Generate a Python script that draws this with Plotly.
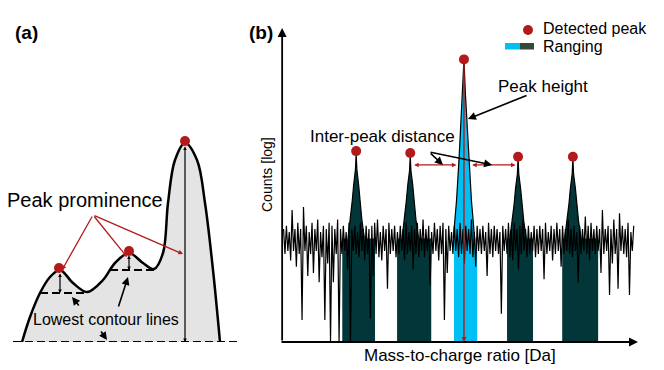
import plotly.graph_objects as go

W, H = 664, 370
FONT = "Arial, Liberation Sans, sans-serif"
RED = "#b31b1b"
TEAL = "#023638"
CYAN = "#00bff2"
GREY = "#e4e4e4"

# ---- panel (a): schematic profile (units ~ pixels above the baseline)
curve_x = [22, 30, 40, 50, 60, 73, 87, 103, 115, 129, 143, 154, 163, 168, 175, 185, 197, 205, 213, 220]
curve_y = [0, 25, 49, 65, 72, 59, 50, 62, 79, 89, 79, 73, 89, 139, 182, 199, 182, 139, 72, 0]
base_x = [13, 240]
contour_y = [49, 72]
contour_x0 = [40, 110]
contour_x1 = [87, 154]
apex_x = [59, 129, 185]
apex_y = [74, 91, 201]
prom_top = [70, 88, 197]
prom_bottom = [49, 72, 0]

# ---- panel (b): spectrum (m/z in arbitrary Da, counts on log scale)
noise_x0, noise_dx = 0.4, 0.4
noise_y = [
    3.6, 2.8, 3.7, 2.9, 3.5, 2.6, 4.2, 2.9, 3.6, 2.4, 3.8, 2.8, 3.6, 0.7, 4.3, 2.9, 3.7, 2.1, 3.5, 2.8,
    3.8, 2.2, 3.6, 2.9, 3.9, 1.9, 3.5, 2.7, 3.7, 0.7, 3.6, 2.5, 3.8, 0.0, 3.7, 1.9, 3.6, 2.8, 3.9, 0.0,
    3.6, 2.8, 3.7, 2.9, 3.5, 2.3, 3.8, 0.0, 3.6, 2.9, 3.7, 2.8, 3.5, 2.7, 3.8, 2.9, 3.6, 2.6, 3.7, 2.8,
    3.6, 0.75, 3.7, 2.1, 3.8, 2.8, 3.9, 2.7, 3.5, 2.6, 3.7, 2.9, 3.6, 1.7, 3.8, 2.8, 3.6, 2.9, 3.7, 2.7,
    3.5, 2.8, 3.7, 2.9, 3.6, 2.6, 3.8, 2.8, 3.5, 2.9, 3.7, 2.3, 3.6, 2.8, 3.8, 2.7, 3.6, 2.9, 3.9, 2.7,
    3.6, 2.9, 3.7, 1.8, 3.5, 2.8, 3.8, 2.9, 3.6, 2.6, 3.7, 2.8, 3.8, 0.7, 3.6, 2.2, 3.7, 2.9, 3.5, 2.8,
    3.7, 2.9, 3.6, 2.7, 3.8, 2.8, 3.6, 2.5, 3.7, 2.9, 3.6, 2.8, 3.9, 2.7, 3.5, 2.4, 3.7, 2.9, 3.6, 2.8,
    3.7, 2.9, 3.5, 2.1, 3.8, 2.8, 3.6, 2.7, 3.7, 2.9, 3.6, 2.8, 3.5, 0.9, 3.7, 2.9, 3.6, 2.8, 3.8, 2.7,
    3.6, 2.6, 3.8, 2.9, 3.6, 2.3, 3.7, 2.8, 3.9, 2.9, 3.6, 2.7, 3.7, 2.8, 3.5, 2.9, 3.7, 2.7, 3.6, 2.8,
    3.7, 2.9, 3.6, 2.0, 3.8, 2.8, 3.5, 2.9, 3.7, 2.6, 3.6, 2.8, 3.8, 2.9, 3.6, 2.4, 3.7, 2.8, 3.6, 2.9,
    3.9, 2.8, 3.6, 2.7, 3.7, 2.9, 3.5, 1.9, 3.7, 2.8, 3.6, 2.9, 4.0, 2.8, 3.7, 2.6, 3.8, 2.9, 3.6, 2.8,
    3.7, 2.9, 3.6, 2.2, 4.2, 2.8, 3.6, 2.9, 3.7, 1.5, 3.6, 2.5, 3.9, 2.8, 3.6, 1.7, 4.1, 2.9, 3.7, 2.8,
    3.6, 2.7, 3.8, 1.5, 3.5, 2.9, 3.7,
]
peak_mz = [20.8, 36.0, 51.1, 66.3, 81.7]
peak_top = [6.08, 6.02, 9.0, 5.9, 5.9]
peak_x = [
    [18.5, 19.2, 19.7, 20.1, 20.6, 20.8, 21.0, 21.5, 21.9, 22.4, 23.1],
    [33.7, 34.4, 34.9, 35.3, 35.8, 36.0, 36.2, 36.7, 37.1, 37.6, 38.3],
    [48.1, 49.0, 49.7, 50.3, 50.75, 51.1, 51.45, 51.9, 52.5, 53.2, 54.1],
    [64.0, 64.7, 65.2, 65.6, 66.1, 66.3, 66.5, 67.0, 67.4, 67.9, 68.6],
    [79.4, 80.1, 80.6, 81.0, 81.5, 81.7, 81.9, 82.4, 82.8, 83.3, 84.0],
]
peak_y = [
    [3.3, 3.9, 4.5, 5.0, 5.5, 6.0, 5.5, 5.0, 4.5, 3.9, 3.3],
    [3.3, 3.9, 4.5, 5.0, 5.45, 5.95, 5.45, 5.0, 4.5, 3.9, 3.3],
    [3.3, 4.5, 5.8, 7.0, 8.0, 9.0, 8.0, 7.0, 5.8, 4.5, 3.3],
    [3.3, 3.85, 4.4, 4.9, 5.35, 5.85, 5.35, 4.9, 4.4, 3.85, 3.3],
    [3.3, 3.85, 4.4, 4.9, 5.35, 5.85, 5.35, 4.9, 4.4, 3.85, 3.3],
]
range_lo = [16.9, 32.3, 48.3, 63.2, 78.7]
range_hi = [26.1, 41.9, 54.8, 70.5, 88.8]
range_col = [TEAL, TEAL, CYAN, TEAL, TEAL]
shoulder = 3.3

noise_x = [noise_x0 + noise_dx * i for i in range(len(noise_y))]


def arrow(x, y, ax, ay, ref, color, width=1.3, head=2, size=1.0, side="end"):
    xr, yr = ref
    return dict(x=x, y=y, ax=ax, ay=ay, xref=xr, yref=yr, axref=xr, ayref=yr, text="",
                showarrow=True, arrowhead=head, startarrowhead=head, arrowsize=size,
                startarrowsize=size, arrowwidth=width, arrowcolor=color, arrowside=side,
                standoff=0, startstandoff=0)


def label(txt, x, y, size, ref=("paper", "paper"), bold=False, angle=0, xanchor="center"):
    t = "<b>{}</b>".format(txt) if bold else txt
    return dict(text=t, x=x, y=y, xref=ref[0], yref=ref[1], showarrow=False, textangle=angle,
                xanchor=xanchor, yanchor="middle", font=dict(family=FONT, size=size, color="black"))


A = ("x", "y")
B = ("x2", "y2")

fig = go.Figure()

# (a)
fig.add_trace(go.Scatter(x=curve_x, y=curve_y, mode="lines", line=dict(color="black", width=2.5, shape="spline", smoothing=1.0),
                         fill="tozeroy", fillcolor=GREY, xaxis="x", yaxis="y", hoverinfo="skip"))
fig.add_trace(go.Scatter(x=base_x, y=[0, 0], mode="lines", line=dict(color="black", width=2, dash="8px,4px"),
                         xaxis="x", yaxis="y", cliponaxis=False))
for cy, c0, c1 in zip(contour_y, contour_x0, contour_x1):
    fig.add_trace(go.Scatter(x=[c0, c1], y=[cy, cy], mode="lines", line=dict(color="black", width=2, dash="8px,4px"),
                             xaxis="x", yaxis="y"))
fig.add_trace(go.Scatter(x=apex_x, y=apex_y, mode="markers", marker=dict(color=RED, size=10),
                         xaxis="x", yaxis="y", cliponaxis=False))

# (b) ranging fills, then the noisy trace on top, then the peaks
for lo, hi, px, py, col in zip(range_lo, range_hi, peak_x, peak_y, range_col):
    fx = [lo, lo, px[0]] + px + [px[-1], hi, hi]
    fy = [0, shoulder, shoulder] + py + [shoulder, shoulder, 0]
    fig.add_trace(go.Scatter(x=fx, y=fy, mode="lines", line=dict(width=0), fill="toself", fillcolor=col,
                             xaxis="x2", yaxis="y2", hoverinfo="skip"))
fig.add_trace(go.Scatter(x=noise_x, y=noise_y, mode="lines", line=dict(color="black", width=1.2),
                         xaxis="x2", yaxis="y2", hoverinfo="skip"))
for px, py in zip(peak_x, peak_y):
    fig.add_trace(go.Scatter(x=px, y=py, mode="lines", line=dict(color="black", width=1.2),
                             xaxis="x2", yaxis="y2", hoverinfo="skip"))
fig.add_trace(go.Scatter(x=peak_mz, y=peak_top, mode="markers", marker=dict(color=RED, size=10),
                         xaxis="x2", yaxis="y2", cliponaxis=False))

ann = [
    label("(a)", 26 / W, 1 - 33 / H, 19, bold=True),
    label("(b)", 261 / W, 1 - 33 / H, 19, bold=True),
    # panel a
    label("Peak prominence", 85, 142, 20, ref=A),
    label("Lowest contour lines", 106, 23, 16, ref=A),
    arrow(60, prom_bottom[0], 60, prom_top[0], A, "black", 1.2, 2, 0.6, "end+start"),
    arrow(129, prom_bottom[1], 129, prom_top[1], A, "black", 1.2, 2, 0.6, "end+start"),
    arrow(185, prom_bottom[2], 185, prom_top[2], A, "black", 1.2, 2, 0.6, "end+start"),
    arrow(62, 72, 93, 127, A, RED, 1.3, 2, 0.7),
    arrow(127, 85, 93, 127, A, RED, 1.3, 2, 0.7),
    arrow(183, 88, 93, 127, A, RED, 1.3, 2, 0.7),
    arrow(72, 45, 80, 35, A, "black", 1.6, 2, 1.0),
    arrow(128, 65, 118, 34, A, "black", 1.6, 2, 1.0),
    arrow(107, 2, 100, 12, A, "black", 1.6, 2, 1.0),
    # panel b axes
    arrow(0, 10, 0, 0, B, "black", 1.8, 2, 1.0),
    arrow(100, 0, -0.6, 0, B, "black", 1.8, 2, 1.0),
    label("Counts [log]", 267 / W, 1 - 175 / H, 14, angle=-90),
    label("Mass-to-charge ratio [Da]", 460 / W, 1 - 355 / H, 17),
    # peak height
    arrow(peak_mz[2], 0, peak_mz[2], peak_top[2], B, RED, 1.4, 2, 0.7),
    label("Peak height", 73.3, 8.15, 17, ref=B),
    arrow(52.2, 7.1, 69.1, 7.87, B, "black", 1.6, 2, 1.0),
    # inter-peak distance
    arrow(37.1, 5.64, 49.4, 5.64, B, RED, 1.3, 2, 0.7, "end+start"),
    arrow(53.4, 5.64, 66.0, 5.64, B, RED, 1.3, 2, 0.7, "end+start"),
    label("Inter-peak distance", 28.1, 6.53, 17, ref=B),
    arrow(45.2, 5.64, 41.3, 6.05, B, "black", 1.6, 2, 1.0),
    arrow(59.0, 5.64, 41.3, 6.05, B, "black", 1.6, 2, 1.0),
    # legend
    label("Detected peak", 541 / W, 1 - 29 / H, 16, xanchor="left"),
    label("Ranging", 541 / W, 1 - 46.5 / H, 16, xanchor="left"),
]

shapes = [
    dict(type="circle", xref="paper", yref="paper", x0=523 / W, x1=533 / W, y0=1 - 35 / H, y1=1 - 25 / H,
         fillcolor=RED, line=dict(width=0)),
    dict(type="rect", xref="paper", yref="paper", x0=505 / W, x1=520 / W, y0=1 - 49.5 / H, y1=1 - 43 / H,
         fillcolor=CYAN, line=dict(width=0)),
    dict(type="rect", xref="paper", yref="paper", x0=520 / W, x1=534 / W, y0=1 - 49.5 / H, y1=1 - 43 / H,
         fillcolor="#344a36", line=dict(width=0)),
]

hidden = dict(visible=False, showgrid=False, zeroline=False, fixedrange=True)
fig.update_layout(
    width=W, height=H, margin=dict(l=0, r=0, t=0, b=0),
    paper_bgcolor="white", plot_bgcolor="rgba(0,0,0,0)", showlegend=False,
    xaxis=dict(domain=[0, 250 / W], range=[0, 250], **hidden),
    yaxis=dict(domain=[1 - 342 / H, 1 - 112 / H], range=[0, 230], **hidden),
    xaxis2=dict(domain=[280 / W, 638 / W], range=[-0.6, 100], **hidden),
    yaxis2=dict(domain=[1 - 342 / H, 1 - 28 / H], range=[0, 10], **hidden),
    annotations=ann, shapes=shapes,
)

# the page body has a default margin; drop it so the figure sits at the window's corner
fig.write_html("out.html", config={"displayModeBar": False},
               post_script="document.body.style.margin='0';")
